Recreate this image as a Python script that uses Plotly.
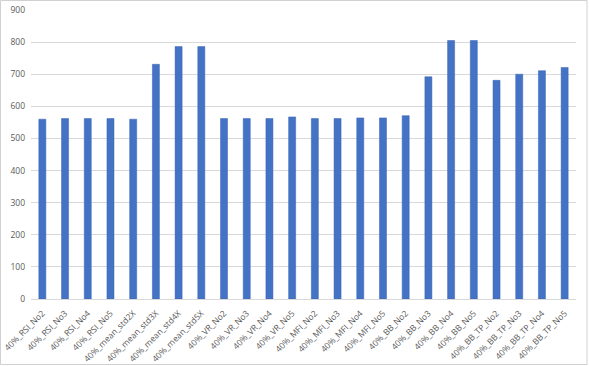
import plotly.graph_objects as go

categories = [
    "40%_RSI_No2", "40%_RSI_No3", "40%_RSI_No4", "40%_RSI_No5",
    "40%_mean_std2X", "40%_mean_std3X", "40%_mean_std4X", "40%_mean_std5X",
    "40%_VR_No2", "40%_VR_No3", "40%_VR_No4", "40%_VR_No5",
    "40%_MFI_No2", "40%_MFI_No3", "40%_MFI_No4", "40%_MFI_No5",
    "40%_BB_No2", "40%_BB_No3", "40%_BB_No4", "40%_BB_No5",
    "40%_BB_TP_No2", "40%_BB_TP_No3", "40%_BB_TP_No4", "40%_BB_TP_No5",
]
values = [
    560, 562, 562, 562,
    560, 731, 786, 786,
    562, 562, 562, 567,
    562, 562, 564, 564,
    571, 692, 805, 805,
    681, 700, 711, 721,
]
y_ticks = [0, 100, 200, 300, 400, 500, 600, 700, 800, 900]

fig = go.Figure(
    go.Bar(
        x=categories,
        y=values,
        marker=dict(color="#4472C4", line=dict(color="#3a64b0", width=0.5)),
        width=0.31,
    )
)

W, H = 589, 366
L, R, T, B = 31, 13, 10, 67
pw, ph = W - L - R, H - T - B

fig.update_layout(
    width=W,
    height=H,
    margin=dict(l=L, r=R, t=T, b=B),
    paper_bgcolor="white",
    plot_bgcolor="white",
    showlegend=False,
    font=dict(family="Open Sans, Liberation Sans, sans-serif", size=8.5, color="#595959"),
    xaxis=dict(
        tickangle=-45,
        showgrid=False,
        showline=True,
        linecolor="#d9d9d9",
        linewidth=1,
        ticks="",
        automargin=False,
        ticklabelstandoff=5,
        tickfont=dict(size=8.5, color="#595959"),
    ),
    yaxis=dict(
        range=[0, 900],
        tickvals=y_ticks,
        showgrid=True,
        gridcolor="#d9d9d9",
        gridwidth=1,
        zeroline=False,
        showline=False,
        ticks="",
        automargin=False,
        ticklabelstandoff=5,
        tickfont=dict(size=8.5, color="#595959"),
    ),
    shapes=[
        dict(type="rect", xref="paper", yref="paper",
             x0=-(L - 0.5) / pw, x1=1 + (R - 2) / pw,
             y0=-(B - 1.5) / ph, y1=1 + (T - 0.5) / ph,
             line=dict(color="#d0d0d0", width=1), fillcolor="rgba(0,0,0,0)", layer="below"),
    ],
)

fig.write_html(
    "out.html",
    config={"displayModeBar": False},
    post_script="document.body.style.margin='0';document.body.style.padding='0';",
)
